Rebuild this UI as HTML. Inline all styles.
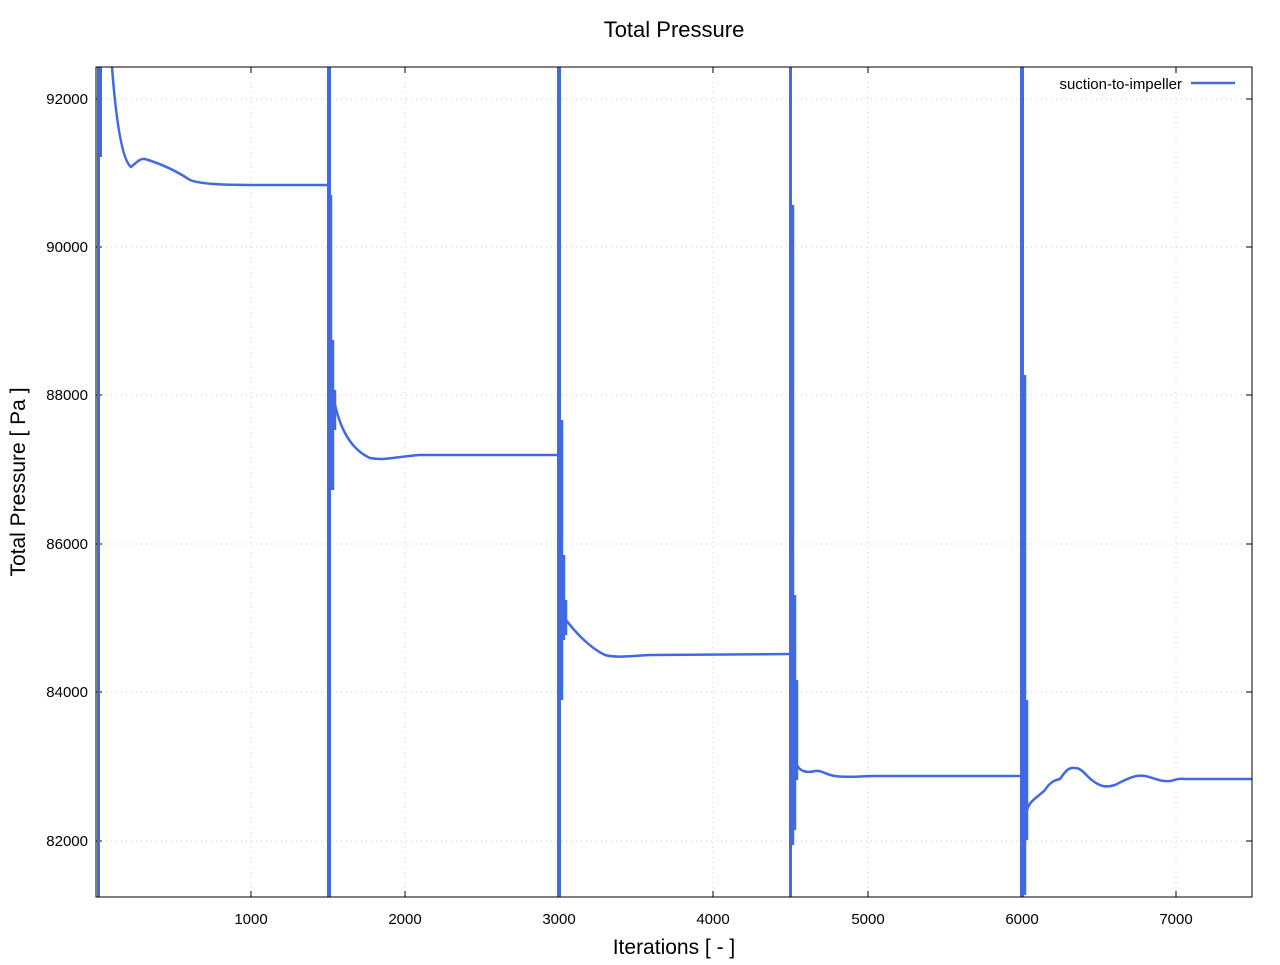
<!DOCTYPE html>
<html><head><meta charset="utf-8"><style>
body{margin:0;background:#fff;}
svg text{font-family:"Liberation Sans",sans-serif;}
</style></head><body>
<svg width="1280" height="960" xmlns="http://www.w3.org/2000/svg">
<rect width="1280" height="960" fill="#fff"/>
<g stroke="#ccc" stroke-dasharray="1,4" stroke-width="1">
<line x1="251" y1="67" x2="251" y2="897"/><line x1="405" y1="67" x2="405" y2="897"/>
<line x1="559" y1="67" x2="559" y2="897"/><line x1="713" y1="67" x2="713" y2="897"/>
<line x1="868" y1="67" x2="868" y2="897"/><line x1="1022" y1="67" x2="1022" y2="897"/>
<line x1="1176" y1="67" x2="1176" y2="897"/>
<line x1="96" y1="99" x2="1252" y2="99"/><line x1="96" y1="247" x2="1252" y2="247"/>
<line x1="96" y1="395" x2="1252" y2="395"/><line x1="96" y1="544" x2="1252" y2="544"/>
<line x1="96" y1="692" x2="1252" y2="692"/><line x1="96" y1="841" x2="1252" y2="841"/>
</g>
<g stroke="#000" stroke-width="1">
<path d="M251 897v-6M405 897v-6M559 897v-6M713 897v-6M868 897v-6M1022 897v-6M1176 897v-6M251 67v6M405 67v6M559 67v6M713 67v6M868 67v6M1022 67v6M1176 67v6"/>
<path d="M96 99h6M96 247h6M96 395h6M96 544h6M96 692h6M96 841h6M1252 99h-6M1252 247h-6M1252 395h-6M1252 544h-6M1252 692h-6M1252 841h-6"/>
</g>
<svg x="96" y="67" width="1156" height="830" viewBox="96 67 1156 830">
<g fill="#4169e1">
<rect x="97" y="67" width="3" height="830"/>
<rect x="99" y="67" width="3" height="90"/>
<rect x="327" y="67" width="4" height="830"/>
<rect x="557" y="67" width="4" height="830"/>
<rect x="789" y="67" width="3" height="830"/>
<rect x="1020" y="67" width="4" height="830"/>
</g>
<g stroke="#4169e1" stroke-width="2.5" fill="none" stroke-linejoin="round">
<path d="M331 195V490M333 340V490M335 390V430M562 420V700M564 555V640M566 600V635M793 205V845M795 595V830M797 680V780M1025 375V895M1027 700V840"/>
<path d="M112 67 C116 120,122 160,131 167 C136 163,140 158,145 159 C165 165,178 172,190 180 C205 186,240 185,327 185"/>
<path d="M334 400 C340 430,352 450,370 458 C385 461,400 456,420 455 L557 455"/>
<path d="M566 620 C575 632,590 648,605 655 C615 658,630 656,650 655 L790 654"/>
<path d="M797 765 C800 772,808 773,815 771 C822 770,826 775,835 776 C850 778,860 776,875 776 L1020 776"/>
<path d="M1027 810 C1030 800,1038 797,1045 790 C1050 782,1055 780,1060 779 C1065 772,1068 767,1075 768 C1082 768,1085 775,1093 781 C1100 786,1105 788,1115 785 C1125 780,1135 774,1145 776 C1155 778,1160 782,1170 781 C1175 780,1178 778,1185 779 L1252 779"/>
</g>
</svg>
<rect x="96" y="67" width="1156" height="830" fill="none" stroke="#000" stroke-width="1"/>
<g font-size="15" text-anchor="end" fill="#000">
<text x="88" y="104">92000</text><text x="88" y="252">90000</text><text x="88" y="400">88000</text>
<text x="88" y="549">86000</text><text x="88" y="697">84000</text><text x="88" y="846">82000</text>
</g>
<g font-size="15" text-anchor="middle" fill="#000">
<text x="251" y="924">1000</text><text x="405" y="924">2000</text><text x="559" y="924">3000</text>
<text x="713" y="924">4000</text><text x="868" y="924">5000</text><text x="1022" y="924">6000</text><text x="1176" y="924">7000</text>
</g>
<text x="674" y="37" font-size="22" text-anchor="middle">Total Pressure</text>
<text x="674" y="954" font-size="21" text-anchor="middle">Iterations [ - ]</text>
<text transform="translate(25,482) rotate(-90)" font-size="21" text-anchor="middle">Total Pressure [ Pa ]</text>
<text x="1182" y="89" font-size="15" text-anchor="end">suction-to-impeller</text>
<line x1="1191" y1="83" x2="1235" y2="83" stroke="#4169e1" stroke-width="2.5"/>
</svg>
</body></html>
